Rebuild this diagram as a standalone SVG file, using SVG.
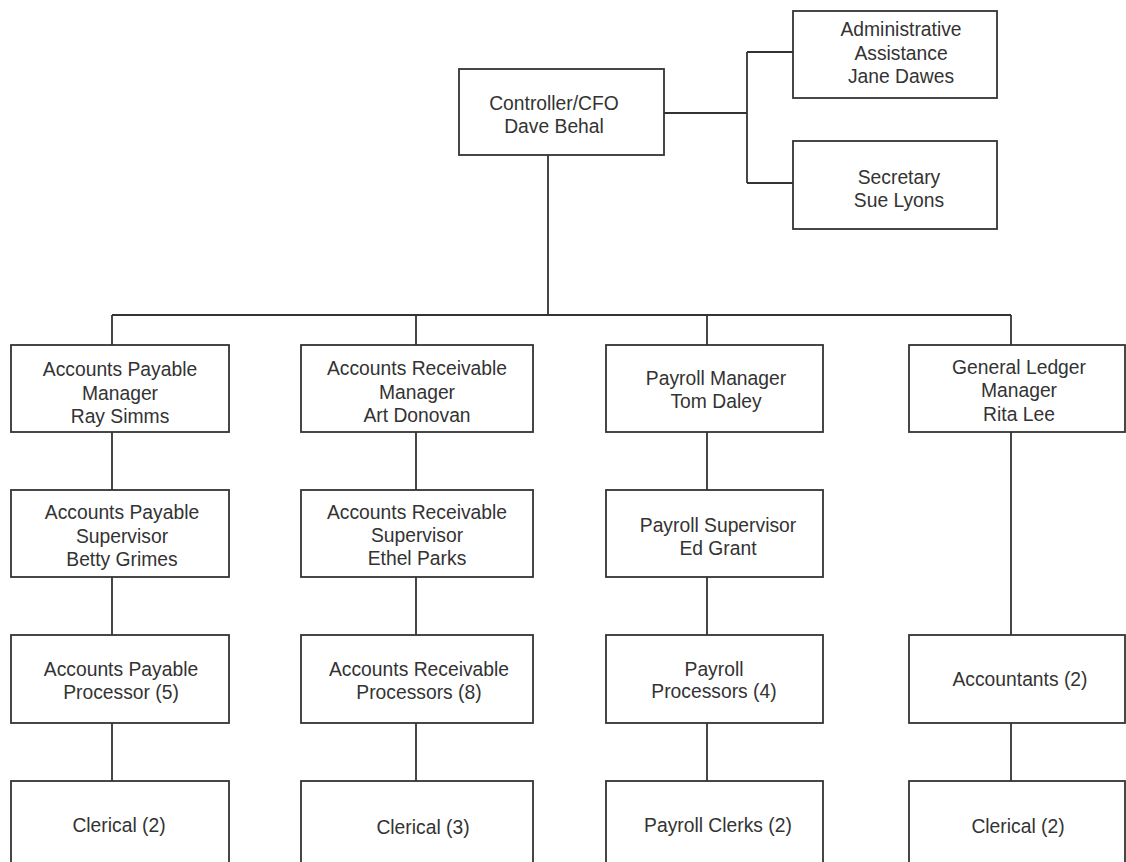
<svg xmlns="http://www.w3.org/2000/svg" width="1126" height="862" viewBox="0 0 1126 862">
<style>
.box{fill:#fff;stroke:#333;stroke-width:1.8}
.conn{fill:none;stroke:#333;stroke-width:1.8}
text{font-family:"Liberation Sans",Arial,sans-serif;font-size:19.3px;fill:#333;text-anchor:middle}
</style>
<rect width="1126" height="862" fill="#fff"/>
<g id="connectors" class="conn">
<path d="M548 155V315M112 315H1011M112 315V345M416 315V345M707 315V345M1011 315V345"/>
<path d="M664 113H747M747 52V183M747 52H793M747 183H793"/>
<path d="M112 432V490M112 577V635M112 723V781"/>
<path d="M416 432V490M416 577V635M416 723V781"/>
<path d="M707 432V490M707 577V635M707 723V781"/>
<path d="M1011 432V635M1011 723V781"/>
</g>
<g id="cfo"><rect class="box" x="459" y="69" width="205" height="86"/><text x="554" y="110">Controller/CFO</text><text x="554" y="133">Dave Behal</text></g>
<g id="admin"><rect class="box" x="793" y="11" width="204" height="87"/><text x="901" y="36">Administrative</text><text x="901" y="59.5">Assistance</text><text x="901" y="83">Jane Dawes</text></g>
<g id="secretary"><rect class="box" x="793" y="141" width="204" height="88"/><text x="899" y="184">Secretary</text><text x="899" y="207">Sue Lyons</text></g>
<g id="ap-manager"><rect class="box" x="11" y="345" width="218" height="87"/><text x="120" y="376">Accounts Payable</text><text x="120" y="399.5">Manager</text><text x="120" y="423">Ray Simms</text></g>
<g id="ar-manager"><rect class="box" x="301" y="345" width="232" height="87"/><text x="417" y="375">Accounts Receivable</text><text x="417" y="398.5">Manager</text><text x="417" y="422">Art Donovan</text></g>
<g id="payroll-manager"><rect class="box" x="606" y="345" width="217" height="87"/><text x="716" y="385">Payroll Manager</text><text x="716" y="407.5">Tom Daley</text></g>
<g id="gl-manager"><rect class="box" x="909" y="345" width="216" height="87"/><text x="1019" y="374">General Ledger</text><text x="1019" y="397">Manager</text><text x="1019" y="420.5">Rita Lee</text></g>
<g id="ap-supervisor"><rect class="box" x="11" y="490" width="218" height="87"/><text x="122" y="519">Accounts Payable</text><text x="122" y="542.5">Supervisor</text><text x="122" y="565.5">Betty Grimes</text></g>
<g id="ar-supervisor"><rect class="box" x="301" y="490" width="232" height="87"/><text x="417" y="518.5">Accounts Receivable</text><text x="417" y="541.5">Supervisor</text><text x="417" y="564.5">Ethel Parks</text></g>
<g id="payroll-supervisor"><rect class="box" x="606" y="490" width="217" height="87"/><text x="718" y="531.5">Payroll Supervisor</text><text x="718" y="555">Ed Grant</text></g>
<g id="ap-processor"><rect class="box" x="11" y="635" width="218" height="88"/><text x="121" y="676">Accounts Payable</text><text x="121" y="699">Processor (5)</text></g>
<g id="ar-processors"><rect class="box" x="301" y="635" width="232" height="88"/><text x="419" y="676">Accounts Receivable</text><text x="419" y="699">Processors (8)</text></g>
<g id="payroll-processors"><rect class="box" x="606" y="635" width="217" height="88"/><text x="714" y="675.5">Payroll</text><text x="714" y="698">Processors (4)</text></g>
<g id="accountants"><rect class="box" x="909" y="635" width="216" height="88"/><text x="1020" y="685.5">Accountants (2)</text></g>
<g id="ap-clerical"><rect class="box" x="11" y="781" width="218" height="100"/><text x="119" y="832">Clerical (2)</text></g>
<g id="ar-clerical"><rect class="box" x="301" y="781" width="232" height="100"/><text x="423" y="834">Clerical (3)</text></g>
<g id="payroll-clerks"><rect class="box" x="606" y="781" width="217" height="100"/><text x="718" y="832">Payroll Clerks (2)</text></g>
<g id="gl-clerical"><rect class="box" x="909" y="781" width="216" height="100"/><text x="1018" y="833">Clerical (2)</text></g>
</svg>
